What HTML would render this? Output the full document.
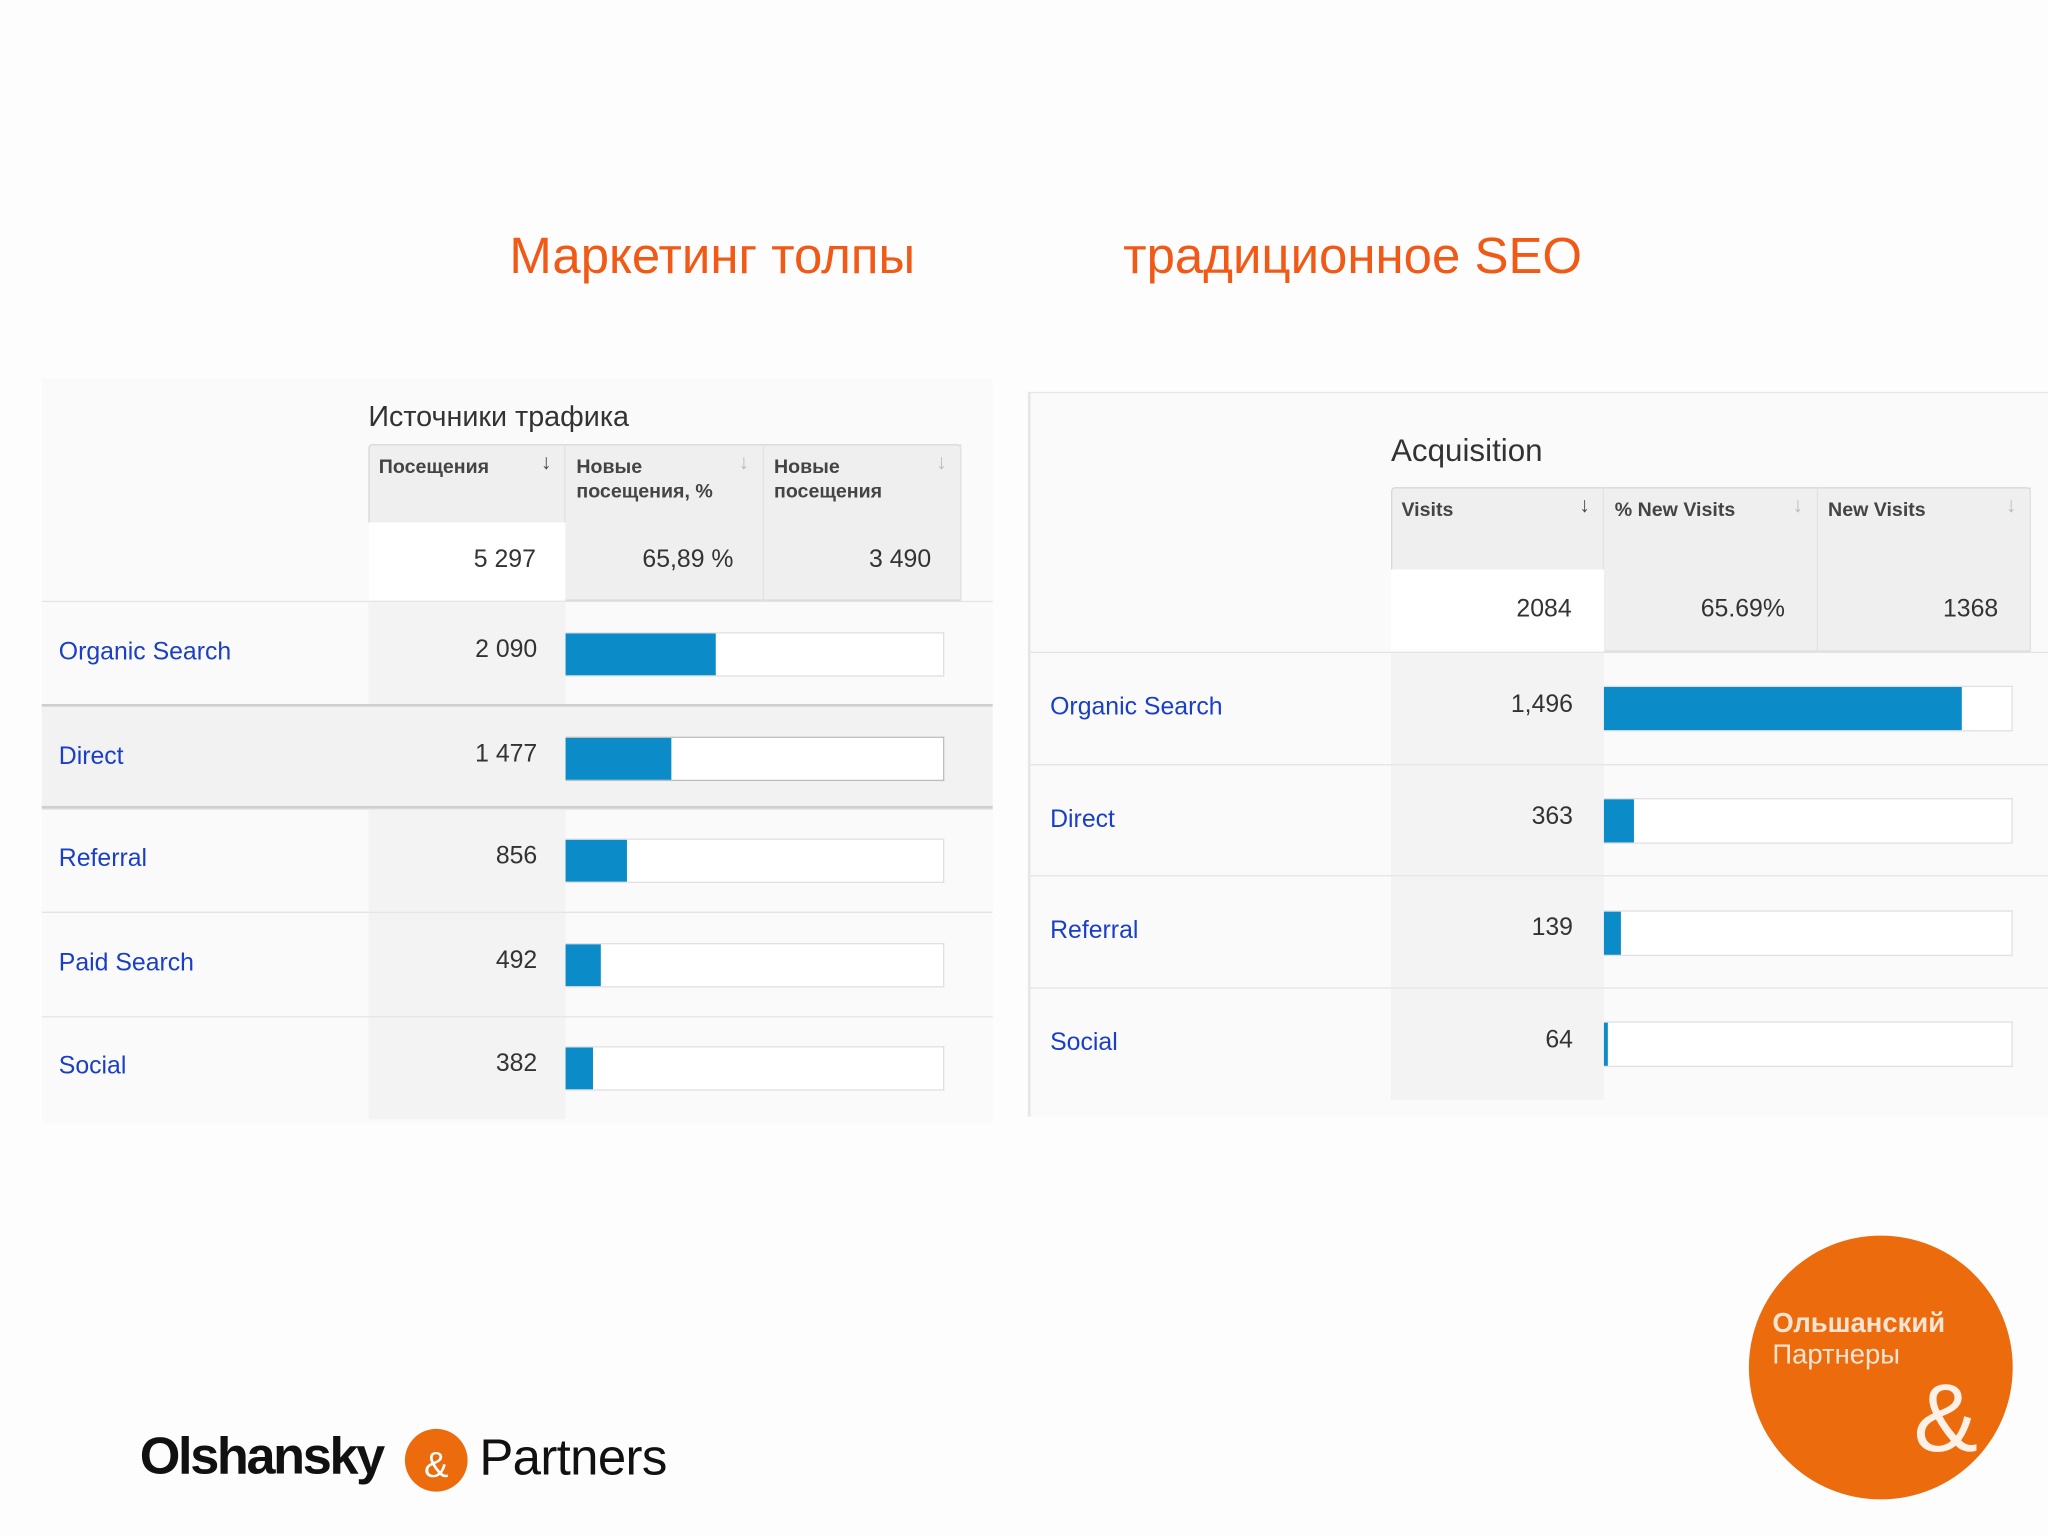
<!DOCTYPE html>
<html><head><meta charset="utf-8">
<style>
html,body{margin:0;padding:0;width:2048px;height:1536px;overflow:hidden;background:#fdfdfd;}
#s{position:absolute;left:0;top:0;width:1568px;height:1176px;transform:scale(1.306122);transform-origin:0 0;font-family:"Liberation Sans","DejaVu Sans",sans-serif;}
.a{position:absolute;box-sizing:border-box;}
.ttl{color:#f05a16;font-size:39px;white-space:nowrap;}
.lbl{color:#1a3fc7;font-size:19px;white-space:nowrap;}
.num{color:#333;font-size:19px;text-align:right;white-space:nowrap;}
.hd{color:#444;font-size:15px;font-weight:bold;line-height:19px;}
.arr{color:#444;font-size:16px;font-weight:bold;}
.arr.l{color:#bbb;}
</style></head><body>
<div id="s">
<div class="a ttl" style="left:390px;top:175px;">Маркетинг толпы</div>
<div class="a ttl" style="left:860px;top:175px;">традиционное SEO</div>

<div class="a" id="L" style="left:32px;top:290px;width:728px;height:570px;background:#fafafa;"></div>
<div class="a" id="R" style="left:787px;top:300px;width:781px;height:555px;background:#fafafa;border-left:2px solid #e6e6e6;border-top:1px solid #e6e6e6;"></div>

<div class="a" style="left:107px;top:1093px;font-size:40px;font-weight:bold;color:#111;letter-spacing:-1.8px;white-space:nowrap;">Olshansky</div>
<div class="a" style="left:310px;top:1094px;width:48px;height:48px;border-radius:50%;background:#ec6b0c;color:#fff;font-size:28px;text-align:center;line-height:56px;">&amp;</div>
<div class="a" style="left:367px;top:1095px;font-size:39px;color:#111;white-space:nowrap;letter-spacing:-0.5px;">Partners</div>

<div class="a" style="left:1339px;top:946px;width:202px;height:202px;border-radius:50%;background:#ec6b0c;">
<div class="a" style="left:18px;top:56px;color:#fbe5d2;font-size:21px;font-weight:bold;white-space:nowrap;">Ольшанский</div>
<div class="a" style="left:18px;top:80px;color:#fbe5d2;font-size:21px;white-space:nowrap;">Партнеры</div>
<div class="a" style="left:126px;top:100px;color:#fdf0e6;font-size:74px;line-height:80px;">&amp;</div>
</div>
</div>
<script>
const leftCats=["Organic Search","Direct","Referral","Paid Search","Social"];
const leftVals=[2090,1477,856,492,382];
const leftLabels=["2 090","1 477","856","492","382"];
const leftTotals=["5 297","65,89 %","3 490"];
const leftTotal=5297;
const rightCats=["Organic Search","Direct","Referral","Social"];
const rightVals=[1496,363,139,64];
const rightLabels=["1,496","363","139","64"];
const rightBarPct=[87.5,7.2,4.2,0.9];
const rightTotals=["2084","65.69%","1368"];

function el(p,st,cls,txt){const d=document.createElement('div');d.className='a '+(cls||'');d.style.cssText=st;if(txt!==undefined)d.textContent=txt;p.appendChild(d);return d;}

function build(root,o){
  const t=el(root,`left:${o.hx}px;top:${o.titleY}px;font-size:${o.tfs}px;color:#333;white-space:nowrap;`,'',o.title);
  
  
  const box=el(root,`left:${o.hx}px;top:${o.hy}px;width:${o.cw*3}px;height:${o.hh}px;background:#efefef;border:1px solid #d8d8d8;border-radius:3px 3px 0 0;`);
  
  
  for(let i=0;i<3;i++){
    const c=el(root,`left:${o.hx+i*o.cw}px;top:${o.hy}px;width:${o.cw}px;height:${o.hh}px;border-right:1px solid #e2e2e2;`);
    
    
    const h=el(c,`left:8px;top:8px;width:${o.cw-30}px;height:${o.hh-o.vh-12}px;overflow:hidden;`,'hd',o.heads[i]);
    
    
    const ar=el(c,`right:10px;top:6px;`,'arr'+(i?' l':''),'↓');
    
    
    if(i===0){const w=el(c,`left:0;top:${o.hh-o.vh}px;width:${o.cw}px;height:${o.vh}px;background:#fff;`);
      
      }
    const v=el(c,`right:${o.vr}px;top:${o.hh-o.vh/2-12}px;`,'num',o.totals[i]);
    
    
  }
  const y0=o.hy+o.hh;
  o.cats.forEach((cat,k)=>{
    const y=y0+k*o.rh;
    const hl=o.hl===k;
    const r=el(root,`left:0;top:${y}px;width:${o.w}px;height:${o.rh}px;border-top:${hl?'2px solid #cfcfcf':'1px solid #e4e4e4'};${hl?'border-bottom:2px solid #cfcfcf;background:#f2f2f2;':''}`);
    
    
    if(!hl){const g=el(r,`left:${o.hx}px;top:0;width:${o.cw}px;height:100%;background:#f3f3f3;`);
      
      }
    const lb=el(r,`left:${o.lx}px;top:${o.rh/2-12}px;`,'lbl',cat);
    
    
    const nv=el(r,`right:${o.w-o.hx-o.cw+o.vr}px;top:${o.rh/2-14}px;`,'num',o.labels[k]);
    
    
    const tr=el(r,`left:${o.hx+o.cw}px;top:${o.rh/2-o.bh/2-1}px;width:${o.tw}px;height:${o.bh+2}px;background:#fff;border:1px solid ${hl?'#bdbdbd':'#e0e0e0'};border-left:none;`);
    
    
    const bw=Math.max(2,o.tw*o.pct(k)/100);
    const b=el(r,`left:${o.hx+o.cw}px;top:${o.rh/2-o.bh/2}px;width:${bw}px;height:${o.bh}px;background:#0b8bc8;`);
    
    
  });
}
build(document.getElementById('L'),{w:728,hx:250,hy:50,hh:120,vh:60,cw:151.3,rh:79.4,lx:13,vr:22,tw:290,bh:32,tfs:22,titleY:16,
  title:"Источники трафика",heads:["Посещения","Новые посещения, %","Новые посещения"],totals:leftTotals,
  cats:leftCats,labels:leftLabels,hl:1,pct:k=>leftVals[k]/leftTotal*100});
build(document.getElementById('R'),{w:781,hx:276,hy:72,hh:126,vh:63,cw:163.3,rh:85.7,lx:15,vr:24,tw:313,bh:33,tfs:24,titleY:31,
  title:"Acquisition",heads:["Visits","% New Visits","New Visits"],totals:rightTotals,
  cats:rightCats,labels:rightLabels,hl:-1,pct:k=>rightBarPct[k]});
</script>
</body></html>
